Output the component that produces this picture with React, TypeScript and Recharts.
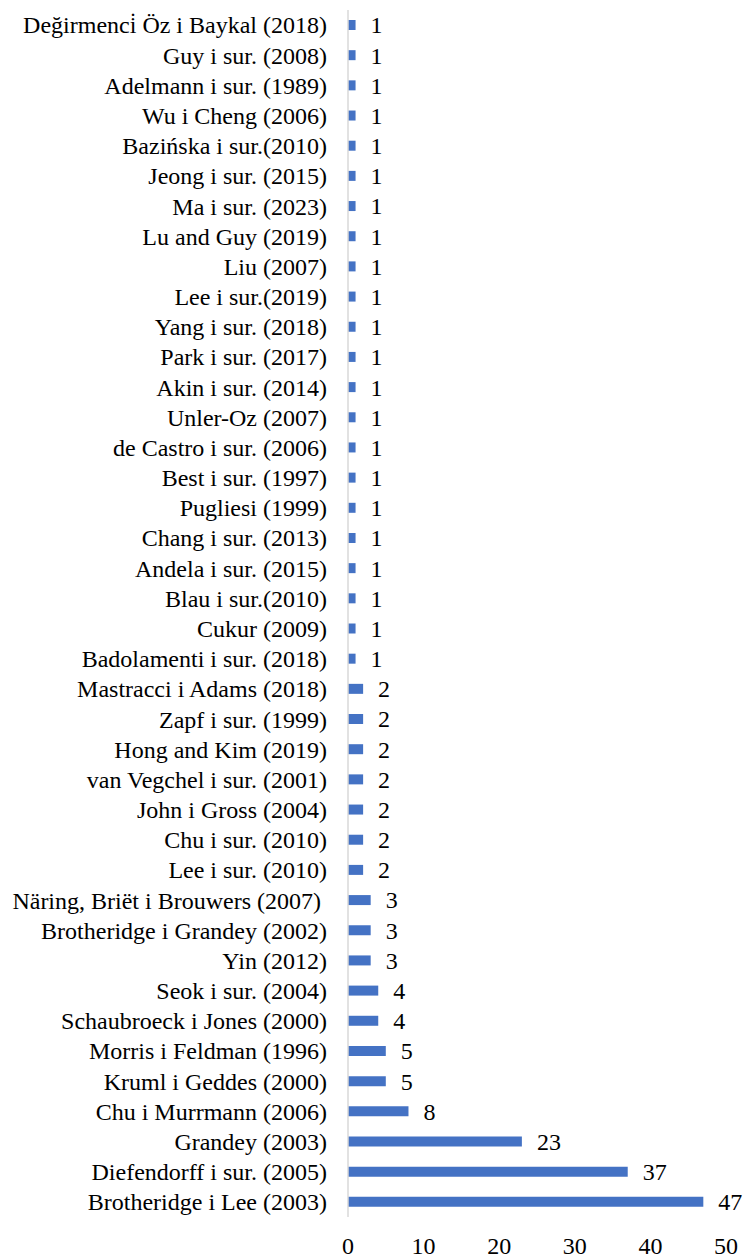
import { Bar, BarChart, LabelList, XAxis, YAxis } from "recharts";

const studies = [
  "Değirmenci̇ Öz i Baykal (2018)",
  "Guy i sur. (2008)",
  "Adelmann i sur. (1989)",
  "Wu i Cheng (2006)",
  "Bazińska i sur.(2010)",
  "Jeong i sur. (2015)",
  "Ma i sur. (2023)",
  "Lu and Guy (2019)",
  "Liu (2007)",
  "Lee i sur.(2019)",
  "Yang i sur. (2018)",
  "Park i sur. (2017)",
  "Akin i sur. (2014)",
  "Unler-Oz (2007)",
  "de Castro i sur. (2006)",
  "Best i sur. (1997)",
  "Pugliesi (1999)",
  "Chang i sur. (2013)",
  "Andela i sur. (2015)",
  "Blau i sur.(2010)",
  "Cukur (2009)",
  "Badolamenti i sur. (2018)",
  "Mastracci i Adams (2018)",
  "Zapf i sur. (1999)",
  "Hong and Kim (2019)",
  "van Vegchel i sur. (2001)",
  "John i Gross (2004)",
  "Chu i sur. (2010)",
  "Lee i sur. (2010)",
  "Näring, Briët i Brouwers (2007) ",
  "Brotheridge i Grandey (2002)",
  "Yin (2012)",
  "Seok i sur. (2004)",
  "Schaubroeck i Jones (2000)",
  "Morris i Feldman (1996)",
  "Kruml i Geddes (2000)",
  "Chu i Murrmann (2006)",
  "Grandey (2003)",
  "Diefendorff i sur. (2005)",
  "Brotheridge i Lee (2003)",
];

const counts = [
  1, 1, 1, 1, 1, 1, 1, 1, 1, 1, 1, 1, 1, 1, 1, 1, 1, 1, 1, 1, 1, 1,
  2, 2, 2, 2, 2, 2, 2,
  3, 3, 3,
  4, 4,
  5, 5,
  8, 23, 37, 47,
];

const xTicks = [0, 10, 20, 30, 40, 50];

const data = studies.map((name, i) => ({ name, count: counts[i] }));

function StudyTick({ x, y, payload }: any) {
  return (
    <text
      x={x}
      y={y}
      dy="0.35em"
      textAnchor="end"
      fill="#000"
      fontSize={24}
      fontFamily="Liberation Serif"
      style={{ whiteSpace: "pre" }}
    >
      {payload.value}
    </text>
  );
}

function XTick({ x, y, payload }: any) {
  return (
    <text x={x} y={y} dy="0.71em" textAnchor="middle" fill="#000" fontSize={24} fontFamily="Liberation Serif">
      {payload.value}
    </text>
  );
}

function ValueLabel({ x, y, width, height, value }: any) {
  return (
    <text x={x + width + 15} y={y + height / 2} dy="0.35em" fill="#000" fontSize={24} fontFamily="Liberation Serif">
      {value}
    </text>
  );
}

export default function App() {
  return (
    <div style={{ position: "absolute", left: 0, top: 0, background: "#fff" }}>
      <BarChart
        layout="vertical"
        width={744}
        height={1258}
        data={data}
        margin={{ top: 10, right: 18, left: 0, bottom: 11 }}
      >
        <XAxis
          type="number"
          domain={[0, 50]}
          ticks={xTicks}
          axisLine={false}
          tickLine={false}
          tickMargin={14}
          height={30}
          tick={<XTick />}
        />
        <YAxis
          type="category"
          dataKey="name"
          width={348}
          axisLine={{ stroke: "#d9d9d9", strokeWidth: 1.5 }}
          tickLine={false}
          tickMargin={15}
          interval={0}
          tick={<StudyTick />}
        />
        <Bar dataKey="count" fill="#4472C4" barSize={10} isAnimationActive={false}>
          <LabelList dataKey="count" content={<ValueLabel />} />
        </Bar>
      </BarChart>
    </div>
  );
}
